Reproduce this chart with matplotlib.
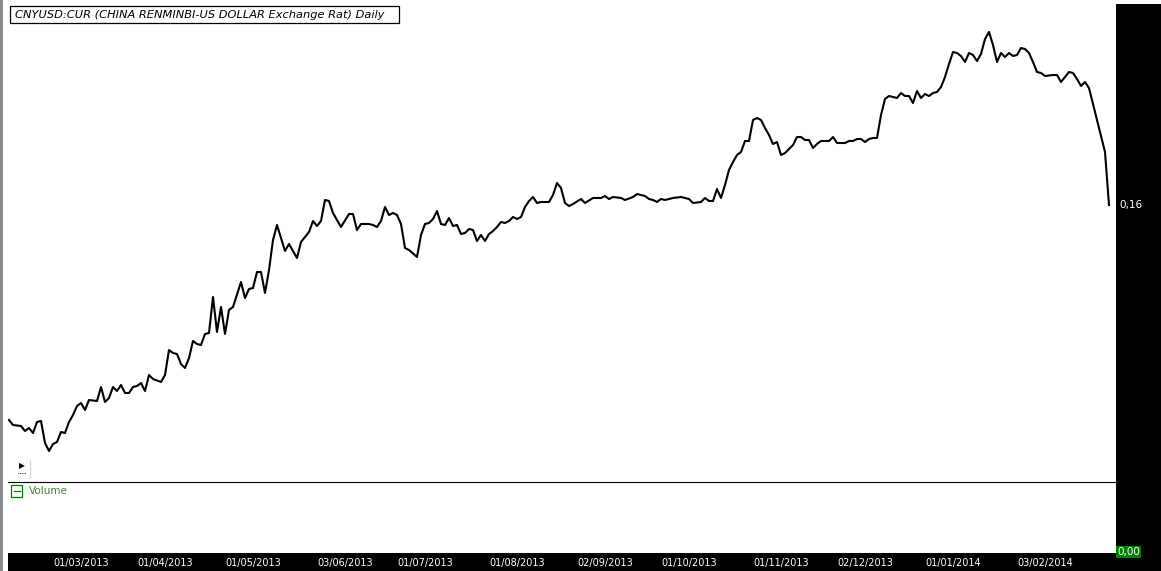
import matplotlib
matplotlib.use("Agg")
import matplotlib.pyplot as plt
from matplotlib.patches import Rectangle
import pandas as pd

# weekday number since 05/02/2013 and the exchange rate
day = [0, 1, 3, 4, 5, 6, 7, 8, 9, 10, 11, 12, 13, 14, 15, 16, 17, 18, 19, 20,
       22, 23, 24, 25, 26, 27, 28, 29, 30, 31, 32, 33, 34, 35, 36, 38, 39, 40, 41, 42,
       43, 44, 45, 46, 47, 48, 49, 50, 51, 52, 53, 54, 55, 56, 58, 59, 60, 61, 62, 63,
       64, 65, 66, 67, 69, 70, 72, 73, 75, 76, 77, 78, 79, 80, 81, 83, 85, 86, 87, 88,
       90, 91, 92, 93, 94, 95, 96, 97, 98, 99, 100, 102, 103, 104, 105, 106, 107, 108, 109, 110,
       111, 112, 113, 114, 115, 116, 117, 118, 119, 120, 121, 122, 123, 124, 125, 126, 127, 128, 129, 130,
       131, 132, 133, 135, 136, 137, 138, 139, 140, 141, 143, 144, 146, 148, 149, 150, 151, 153, 154, 156,
       157, 159, 160, 161, 162, 163, 164, 166, 168, 170, 171, 173, 174, 175, 176, 177, 178, 179, 180, 181,
       182, 183, 184, 185, 186, 187, 188, 189, 190, 191, 192, 193, 194, 195, 196, 197, 198, 199, 200, 201,
       202, 203, 205, 206, 207, 209, 210, 211, 212, 213, 214, 215, 216, 217, 218, 219, 220, 222, 223, 224,
       225, 226, 227, 228, 229, 230, 231, 232, 233, 234, 235, 236, 237, 238, 239, 240, 241, 242, 243, 244,
       245, 246, 247, 248, 249, 250, 251, 252, 253, 254, 255, 256, 257, 258, 259, 261, 262, 263, 265, 266,
       267, 268, 269, 270, 272, 274, 275]
rate = [0.16220, 0.16215, 0.16214, 0.16209, 0.16212, 0.16207, 0.16218, 0.16219, 0.16197, 0.16189,
        0.16196, 0.16198, 0.16208, 0.16207, 0.16218, 0.16225, 0.16234, 0.16237, 0.16230, 0.16240,
        0.16239, 0.16253, 0.16238, 0.16242, 0.16253, 0.16249, 0.16255, 0.16247, 0.16247, 0.16253,
        0.16254, 0.16257, 0.16249, 0.16265, 0.16261, 0.16258, 0.16265, 0.16290, 0.16287, 0.16286,
        0.16276, 0.16272, 0.16282, 0.16299, 0.16296, 0.16295, 0.16306, 0.16307, 0.16343, 0.16308,
        0.16333, 0.16306, 0.16330, 0.16333, 0.16358, 0.16342, 0.16351, 0.16352, 0.16368, 0.16368,
        0.16347, 0.16370, 0.16400, 0.16415, 0.16389, 0.16396, 0.16382, 0.16398, 0.16408, 0.16419,
        0.16414, 0.16419, 0.16440, 0.16439, 0.16427, 0.16413, 0.16426, 0.16426, 0.16410, 0.16416,
        0.16416, 0.16415, 0.16413, 0.16419, 0.16433, 0.16425, 0.16427, 0.16425, 0.16416, 0.16392,
        0.16390, 0.16383, 0.16405, 0.16416, 0.16417, 0.16421, 0.16429, 0.16416, 0.16415, 0.16422,
        0.16414, 0.16415, 0.16406, 0.16407, 0.16411, 0.16410, 0.16399, 0.16405, 0.16399, 0.16406,
        0.16409, 0.16413, 0.16418, 0.16417, 0.16419, 0.16423, 0.16421, 0.16423, 0.16433, 0.16439,
        0.16443, 0.16437, 0.16438, 0.16438, 0.16445, 0.16457, 0.16452, 0.16437, 0.16434, 0.16436,
        0.16441, 0.16437, 0.16442, 0.16442, 0.16444, 0.16441, 0.16443, 0.16442, 0.16440, 0.16443,
        0.16446, 0.16444, 0.16441, 0.16440, 0.16438, 0.16441, 0.16440, 0.16442, 0.16443, 0.16441,
        0.16437, 0.16438, 0.16442, 0.16439, 0.16439, 0.16451, 0.16442, 0.16455, 0.16470, 0.16478,
        0.16485, 0.16488, 0.16499, 0.16499, 0.16520, 0.16522, 0.16520, 0.16512, 0.16505, 0.16496,
        0.16498, 0.16485, 0.16487, 0.16491, 0.16495, 0.16503, 0.16503, 0.16500, 0.16500, 0.16492,
        0.16496, 0.16499, 0.16499, 0.16503, 0.16497, 0.16497, 0.16499, 0.16499, 0.16501, 0.16501,
        0.16498, 0.16501, 0.16502, 0.16502, 0.16525, 0.16541, 0.16544, 0.16542, 0.16547, 0.16544,
        0.16544, 0.16537, 0.16549, 0.16542, 0.16546, 0.16544, 0.16547, 0.16548, 0.16553, 0.16563,
        0.16576, 0.16588, 0.16587, 0.16584, 0.16578, 0.16587, 0.16585, 0.16579, 0.16586, 0.16601,
        0.16608, 0.16595, 0.16578, 0.16587, 0.16583, 0.16587, 0.16584, 0.16585, 0.16592, 0.16591,
        0.16587, 0.16578, 0.16568, 0.16567, 0.16564, 0.16565, 0.16565, 0.16558, 0.16568, 0.16567,
        0.16561, 0.16554, 0.16558, 0.16552, 0.16520, 0.16488, 0.16435]

tick_labels = ["01/03/2013", "01/04/2013", "01/05/2013", "03/06/2013", "01/07/2013",
               "01/08/2013", "02/09/2013", "01/10/2013", "01/11/2013", "02/12/2013",
               "01/01/2014", "03/02/2014"]

title = "CNYUSD:CUR (CHINA RENMINBI-US DOLLAR Exchange Rat) Daily"

W, H = 1161, 571
bdays = pd.bdate_range("2013-02-05", periods=300)
tick_pos = [bdays.get_loc(pd.to_datetime(t, dayfirst=True)) for t in tick_labels]


def fx(px):
    return px / W


def fy(py):
    return 1 - py / H


fig = plt.figure(figsize=(W / 100, H / 100), dpi=100, facecolor="white")

# right scale panel and left border (behind the axes)
fig.patches.append(Rectangle((fx(1116), 0), 1 - fx(1116), fy(4), transform=fig.transFigure,
                             facecolor="black", edgecolor="none", zorder=-2))
fig.patches.append(Rectangle((0, 0), fx(3), 1, transform=fig.transFigure,
                             facecolor="#8c8c8c", edgecolor="none", zorder=-2))

# price pane
ax = fig.add_axes([fx(8), fy(482), fx(1108), 482 / H])
ax.patch.set_alpha(0)
ax.plot(day, rate, color="black", linewidth=1.5)
ax.set_xlim(-0.25, 276.75)
ax.set_ylim(0.16158, 0.16640)
ax.set_xticks([])
ax.set_yticks([])
for s in ["top", "left", "right"]:
    ax.spines[s].set_visible(False)
ax.spines["bottom"].set_color("black")
ax.spines["bottom"].set_linewidth(0.8)

# last value on the right scale
last = f"{rate[-1]:.2f}".replace(".", ",")
ax.annotate(last, xy=(1, rate[-1]), xycoords=("axes fraction", "data"),
            xytext=(3, 0), textcoords="offset pixels", va="center", ha="left",
            color="white", fontsize=7.5, annotation_clip=False, zorder=10)

# date bar
axd = fig.add_axes([fx(8), 0, fx(1108), 18 / H])
axd.set_facecolor("black")
axd.set_xlim(-0.25, 276.75)
axd.set_ylim(0, 1)
axd.set_yticks([])
axd.set_xticks([])
for s in axd.spines.values():
    s.set_visible(False)
for p, t in zip(tick_pos, tick_labels):
    axd.text(p, 0.45, t, color="white", fontsize=7, ha="center", va="center")

# volume scale value
fig.text(fx(1128.5), fy(552), "0,00", color="white", fontsize=7.5, ha="center", va="center",
         bbox=dict(boxstyle="square,pad=0.12", facecolor="#008000", edgecolor="none"))

# title box
fig.patches.append(Rectangle((fx(10), fy(23)), fx(389), 17 / H, transform=fig.transFigure,
                             facecolor="white", edgecolor="black", linewidth=0.9, zorder=5))
fig.text(fx(15), fy(14.5), title, fontsize=8.2, style="italic", color="black",
         ha="left", va="center", zorder=6)

# volume pane legend
fig.patches.append(Rectangle((fx(11), fy(497)), fx(11), 12 / H, transform=fig.transFigure,
                             facecolor="white", edgecolor="#008000", linewidth=0.9))
fig.lines.append(plt.Line2D([fx(13.5), fx(19.5)], [fy(491), fy(491)], transform=fig.transFigure,
                            color="#008000", linewidth=0.9))
fig.text(fx(29), fy(491), "Volume", fontsize=7.5, color="#3a8a2a", ha="left", va="center")

# small arrow button
fig.text(fx(22), fy(466), "\u25b6", fontsize=5.5, color="black", ha="center", va="center")
fig.lines.append(plt.Line2D([fx(18), fx(26)], [fy(473), fy(473)], transform=fig.transFigure,
                            color="black", linewidth=0.6, linestyle=(0, (1, 1))))
fig.lines.append(plt.Line2D([fx(29.5), fx(29.5)], [fy(460), fy(478)], transform=fig.transFigure,
                            color="#d8d8d8", linewidth=0.8))

fig.savefig("out.png", dpi=100, facecolor="white")
